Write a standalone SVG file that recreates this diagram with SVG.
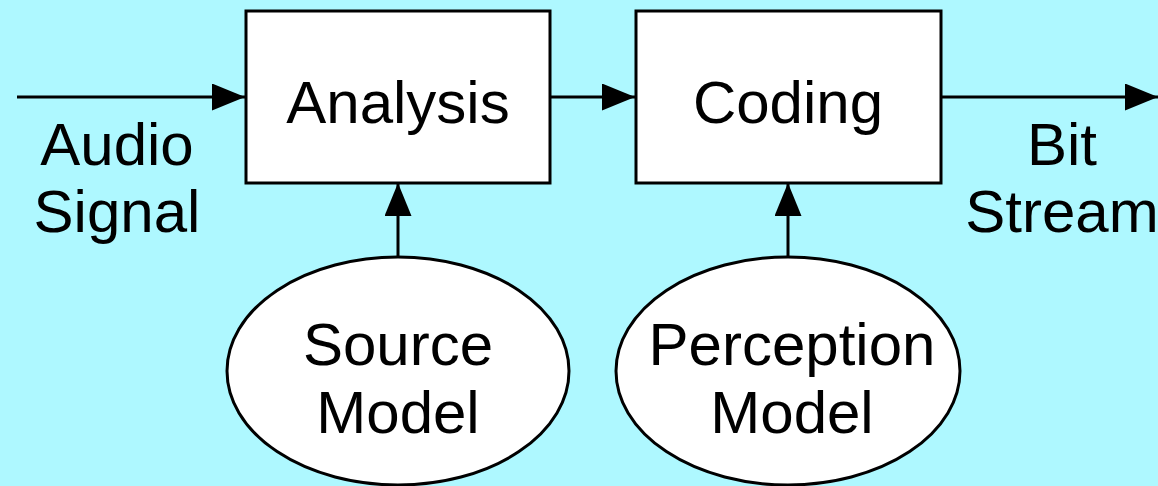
<svg xmlns="http://www.w3.org/2000/svg" width="1158" height="486" viewBox="0 0 1158 486">
<style>
.box{fill:#fff;stroke:#000;stroke-width:3}
.ln{stroke:#000;stroke-width:3;fill:none}
.t{font-family:"Liberation Sans",Arial,sans-serif;font-size:60px;fill:#000;text-anchor:middle}
</style>
<defs>
<marker id="ah" viewBox="0 0 33 27" refX="33" refY="13.5" markerWidth="33" markerHeight="27" markerUnits="userSpaceOnUse" orient="auto">
<path d="M0,0 L33,13.5 L0,27 Z" fill="#000"/>
</marker>
</defs>
<rect width="1158" height="486" fill="#aef8ff"/>
<g id="connectors">
<line class="ln" x1="17" y1="97" x2="245" y2="97" marker-end="url(#ah)"/>
<line class="ln" x1="550" y1="97" x2="635" y2="97" marker-end="url(#ah)"/>
<line class="ln" x1="941" y1="97" x2="1158" y2="97" marker-end="url(#ah)"/>
<line class="ln" x1="398" y1="257" x2="398" y2="183" marker-end="url(#ah)"/>
<line class="ln" x1="788" y1="257" x2="788" y2="183" marker-end="url(#ah)"/>
</g>
<g id="analysis">
<rect class="box" x="246" y="11" width="304" height="172"/>
<text class="t" x="398" y="123">Analysis</text>
</g>
<g id="coding">
<rect class="box" x="636" y="11" width="305" height="172"/>
<text class="t" x="788" y="123">Coding</text>
</g>
<g id="source-model">
<ellipse class="box" cx="398" cy="371" rx="171" ry="114"/>
<text class="t" x="398" y="365">Source</text>
<text class="t" x="398" y="433">Model</text>
</g>
<g id="perception-model">
<ellipse class="box" cx="788" cy="371" rx="172" ry="114"/>
<text class="t" x="792" y="365">Perception</text>
<text class="t" x="792" y="433">Model</text>
</g>
<g id="audio-signal">
<text class="t" x="117" y="165">Audio</text>
<text class="t" x="117" y="232">Signal</text>
</g>
<g id="bit-stream">
<text class="t" x="1062" y="165">Bit</text>
<text class="t" x="1062" y="232">Stream</text>
</g>
</svg>
